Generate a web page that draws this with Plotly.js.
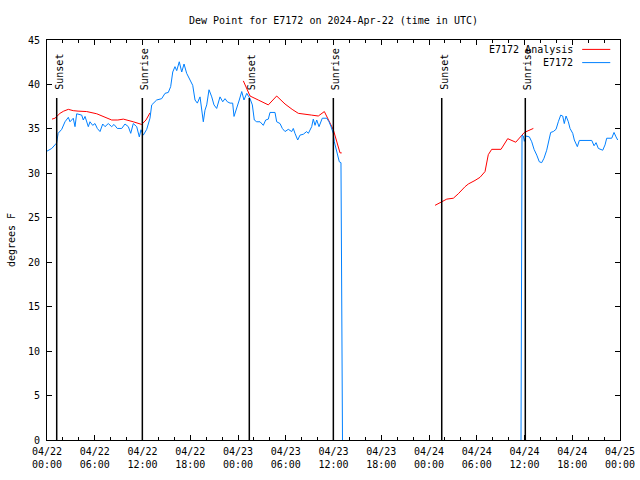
<!DOCTYPE html>
<html>
<head>
<meta charset="utf-8">
<script src="https://cdn.plot.ly/plotly-3.0.1.min.js"></script>
<style>html,body{margin:0;padding:0;background:#fff;}#chart{width:640px;height:480px;}</style>
</head>
<body>
<div id="chart"></div>
<script>
// Hours since 2024-04-22 00:00 UTC
const obsHours = [0.0,0.6,1.0,1.2,1.4,1.85,2.26,2.68,2.89,3.3,3.52,3.73,4.36,4.56,4.78,5.19,5.4,5.74,6.03,6.32,6.66,7.0,7.29,7.7,8.13,8.42,8.83,9.39,9.8,10.22,10.52,10.84,11.27,11.6,11.81,12.1,12.53,12.94,13.16,13.78,14.41,14.83,15.24,15.54,15.8,16.08,16.3,16.62,16.93,17.22,17.55,17.97,18.31,18.6,18.89,19.23,19.44,19.64,19.85,20.07,20.36,20.7,20.98,21.32,21.74,22.08,22.37,22.66,23.0,23.33,23.5,23.84,24.16,24.47,24.75,25.1,25.22,25.51,25.8,26.05,26.35,26.77,27.18,27.48,27.81,28.02,28.65,28.86,29.28,29.57,29.91,30.32,30.75,30.95,31.16,31.5,31.79,32.21,32.63,32.84,33.26,33.46,33.68,33.89,34.18,34.59,35.15,35.44,35.69,35.98,36.1,36.4,36.73,36.94,37.0,37.13,
  48.0,
  59.56,59.6,59.69,59.85,59.98,60.19,60.61,60.91,61.2,61.54,61.86,62.16,62.45,62.79,62.99,63.29,63.62,63.96,64.25,64.55,64.8,65.0,65.22,65.51,65.72,66.06,66.26,66.64,66.89,67.82,68.45,68.74,68.99,69.28,69.83,70.12,70.33,70.96,71.25,71.5,71.71];
const obsDew = [32.5,32.8,33.2,33.4,34.5,34.95,35.8,36.3,35.8,36.2,35.25,36.7,36.55,36.0,36.4,35.25,35.8,35.4,35.6,35.05,34.7,35.55,35.25,35.6,35.25,35.5,35.05,35.05,35.55,35.25,34.5,35.6,35.25,34.1,34.9,34.3,34.95,36.2,37.7,38.25,38.4,39.0,39.1,39.75,41.4,42.0,41.55,42.55,41.4,42.3,41.25,40.5,39.9,38.25,37.9,38.6,37.1,35.8,37.1,37.7,39.4,38.6,37.7,37.3,38.6,38.05,38.4,38.05,37.9,37.9,36.4,37.5,38.25,39.2,38.25,39.0,38.8,38.4,37.7,36.0,35.8,35.8,35.4,36.0,36.1,36.85,36.85,35.8,35.6,35.05,34.7,34.95,34.7,35.05,34.5,33.75,34.3,34.4,34.7,34.5,35.25,36.1,35.4,36.0,35.25,36.2,36.2,35.8,35.25,34.5,33.55,32.6,31.3,31.2,15.7,0,
  null,
  0,17.1,34.3,34.2,33.6,34.2,34.1,33.55,32.7,32.05,31.3,31.2,31.7,32.6,33.4,34.6,34.7,34.95,35.8,36.55,36.45,35.6,36.45,35.8,35.05,34.5,33.75,33.0,33.7,33.7,33.7,33.1,33.45,32.8,32.6,33.2,33.95,33.95,34.6,34.1,33.75];

const anaHours = [0.63,1.0,1.63,2.1,2.68,3.3,3.9,4.99,6.25,7.5,8.13,8.9,9.59,10.84,11.9,12.44,12.94,
  18.0,
  24.67,25.51,26.55,27.81,28.86,29.91,30.8,31.58,33.26,34.09,34.85,35.56,35.98,36.82,37.03,
  43.0,
  48.76,49.6,50.23,51.06,51.68,52.53,52.94,53.78,54.41,55.04,55.45,55.88,57.05,57.89,58.9,59.98,61.11];
const anaDew = [36.1,36.2,36.75,37.0,37.2,37.05,37.0,36.95,36.7,36.2,36.0,36.0,36.1,35.8,35.5,36.0,36.8,
  null,
  40.4,38.7,38.25,37.7,38.7,37.8,37.2,36.75,36.55,36.45,36.95,35.6,34.9,32.3,32.3,
  null,
  26.4,26.8,27.1,27.2,27.7,28.5,28.8,29.2,29.55,30.2,32.1,32.7,32.7,33.9,33.5,34.6,35.05];

const sunLabels = ["Sunset","Sunrise","Sunset","Sunrise","Sunset","Sunrise"];
const sunHours = [1.22,11.98,25.42,35.98,49.6,60.1];

const seriesNames = ["E7172 Analysis","E7172"];
const seriesColors = ["#ff0000","#0080ff"];

const T0 = Date.UTC(2024,3,22,0,0,0);
function p2(n){return (n<10?"0":"")+n;}
function toDate(h){
  const d = new Date(T0 + Math.round(h*3600)*1000);
  return d.getUTCFullYear()+"-"+p2(d.getUTCMonth()+1)+"-"+p2(d.getUTCDate())+" "+p2(d.getUTCHours())+":"+p2(d.getUTCMinutes())+":"+p2(d.getUTCSeconds());
}

const FONT = "DejaVu Sans Mono, Liberation Mono, monospace";

const traces = [
  {x: anaHours.map(toDate), y: anaDew, mode: "lines", name: seriesNames[0],
   line: {color: seriesColors[0], width: 1}, connectgaps: false, showlegend: false},
  {x: obsHours.map(toDate), y: obsDew, mode: "lines", name: seriesNames[1],
   line: {color: seriesColors[1], width: 1}, connectgaps: false, showlegend: false}
];

const shapes = [];
const annotations = [];
sunHours.forEach(function(h, i){
  shapes.push({type: "line", xref: "x", yref: "paper", x0: toDate(h), x1: toDate(h), y0: 0, y1: 0.855,
    line: {color: "#000", width: 1.5}});
  annotations.push({xref: "x", yref: "paper", x: toDate(h), y: 0.87, text: sunLabels[i], textangle: -90,
    showarrow: false, xanchor: "center", yanchor: "bottom", xshift: 2,
    font: {family: FONT, size: 10, color: "#000"}});
});

// manual legend (text left of sample line, like the reference)
const legY = [0.9765, 0.9435];
seriesNames.forEach(function(n, i){
  annotations.push({xref: "paper", yref: "paper", x: 0.9215, y: legY[i], text: n, showarrow: false,
    xanchor: "right", yanchor: "middle", font: {family: FONT, size: 10, color: "#000"}});
  shapes.push({type: "line", xref: "paper", yref: "paper", x0: 0.934, x1: 0.983, y0: legY[i], y1: legY[i],
    line: {color: seriesColors[i], width: 1}});
});

const layout = {
  width: 640, height: 480,
  margin: {l: 47, r: 20, t: 40, b: 40, pad: 0},
  paper_bgcolor: "#fff", plot_bgcolor: "#fff",
  font: {family: FONT, size: 10, color: "#000"},
  title: {text: "Dew Point for E7172 on 2024-Apr-22 (time in UTC)", x: 0.5, xref: "paper",
    y: 1 - 20/480, yref: "container", xanchor: "center", yanchor: "middle",
    font: {family: FONT, size: 10, color: "#000"}},
  showlegend: false,
  xaxis: {type: "date", range: ["2024-04-22 00:00:00", "2024-04-25 00:00:00"],
    tick0: "2024-04-22 00:00:00", dtick: 6*3600*1000, tickformat: "%m/%d<br>%H:%M",
    ticks: "inside", ticklen: 5, tickcolor: "#000", tickwidth: 1, ticklabelstandoff: 2,
    minor: {ticks: "inside", dtick: 2*3600*1000, ticklen: 3, tickcolor: "#000", showgrid: false},
    showline: true, linecolor: "#000", linewidth: 1, mirror: "allticks",
    showgrid: false, zeroline: false, fixedrange: true,
    tickfont: {family: FONT, size: 10, color: "#000"}},
  yaxis: {range: [0, 45], dtick: 5, tick0: 0,
    ticks: "inside", ticklen: 5, tickcolor: "#000", tickwidth: 1, ticklabelstandoff: 4,
    showline: true, linecolor: "#000", linewidth: 1, mirror: "allticks",
    showgrid: false, zeroline: false, fixedrange: true,
    title: {text: "degrees F", standoff: 10, font: {family: FONT, size: 10, color: "#000"}},
    tickfont: {family: FONT, size: 10, color: "#000"}},
  shapes: shapes,
  annotations: annotations
};

Plotly.newPlot("chart", traces, layout, {displayModeBar: false, staticPlot: true});
</script>
</body>
</html>
